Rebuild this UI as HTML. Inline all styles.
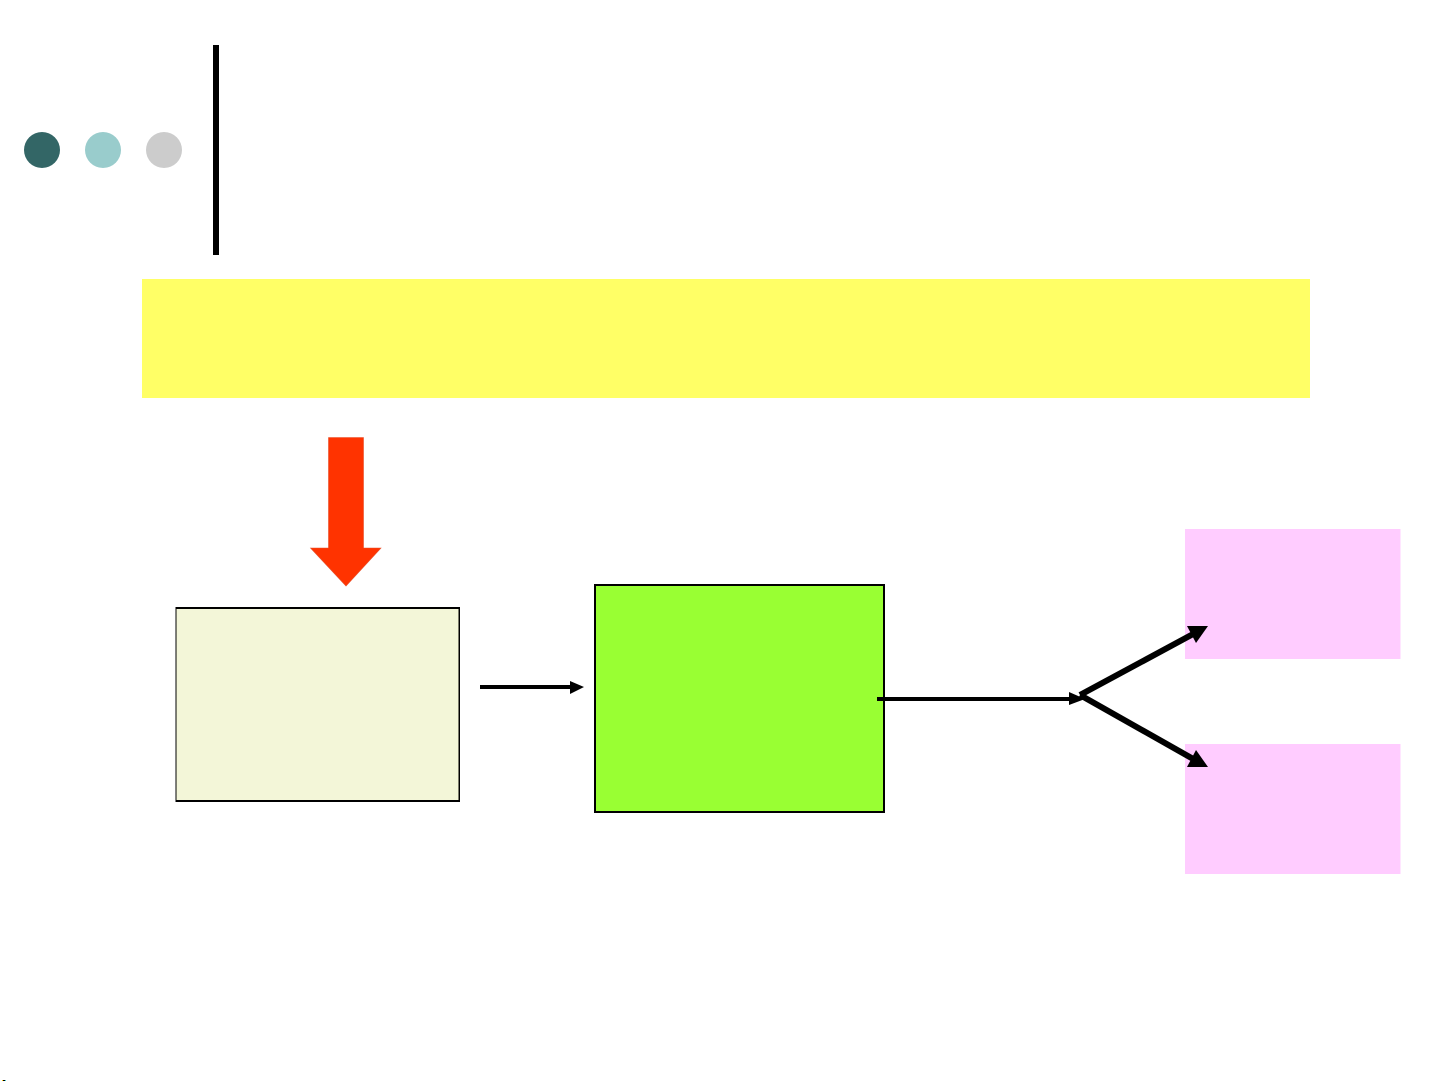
<!DOCTYPE html>
<html>
<head>
<meta charset="utf-8">
<style>
html,body{margin:0;padding:0;background:#fff;}
svg{display:block;}
</style>
</head>
<body>
<svg width="1441" height="1081" viewBox="0 0 1441 1081" xmlns="http://www.w3.org/2000/svg">
<rect width="1441" height="1081" fill="#fff"/>
<circle cx="42" cy="150" r="18" fill="#336666"/>
<circle cx="103" cy="150" r="18" fill="#99cccc"/>
<circle cx="164" cy="150" r="18" fill="#cccccc"/>
<rect x="213" y="45" width="6" height="210" fill="#000"/>
<rect x="142" y="279" width="1168" height="119" fill="#ffff66"/>
<polygon points="328.5,437.5 363.5,437.5 363.5,548 381,548 346,586 310.5,548 328.5,548" fill="#ff3300" stroke="#e8502a" stroke-width="0.6"/>
<rect x="175.5" y="607" width="284.5" height="195" fill="#000"/>
<rect x="176.5" y="609" width="282" height="191" fill="#f3f6d8"/>
<rect x="595" y="585" width="289" height="227" fill="#99ff33" stroke="#000" stroke-width="2"/>
<rect x="1185" y="529" width="215.5" height="130" fill="#ffccff"/>
<rect x="1185" y="744" width="215.5" height="130" fill="#ffccff"/>
<rect x="480" y="685" width="92" height="4" fill="#000"/>
<polygon points="570,681 584,687 570,694" fill="#000"/>
<rect x="877" y="697" width="194" height="4" fill="#000"/>
<polygon points="1069,692 1085,699 1069,705" fill="#000"/>
<line x1="1080" y1="695" x2="1195" y2="633" stroke="#000" stroke-width="6"/>
<polygon points="1208,626 1187,626 1196,643" fill="#000"/>
<line x1="1080" y1="695" x2="1195" y2="760" stroke="#000" stroke-width="6"/>
<polygon points="1208,767 1187,767 1196,750" fill="#000"/>
<rect x="2" y="1080" width="1" height="1" fill="#ffcc00"/>
<rect x="3" y="1080" width="2" height="1" fill="#000"/>
<rect x="5" y="1080" width="1" height="1" fill="#33cccc"/>
</svg>
</body>
</html>
